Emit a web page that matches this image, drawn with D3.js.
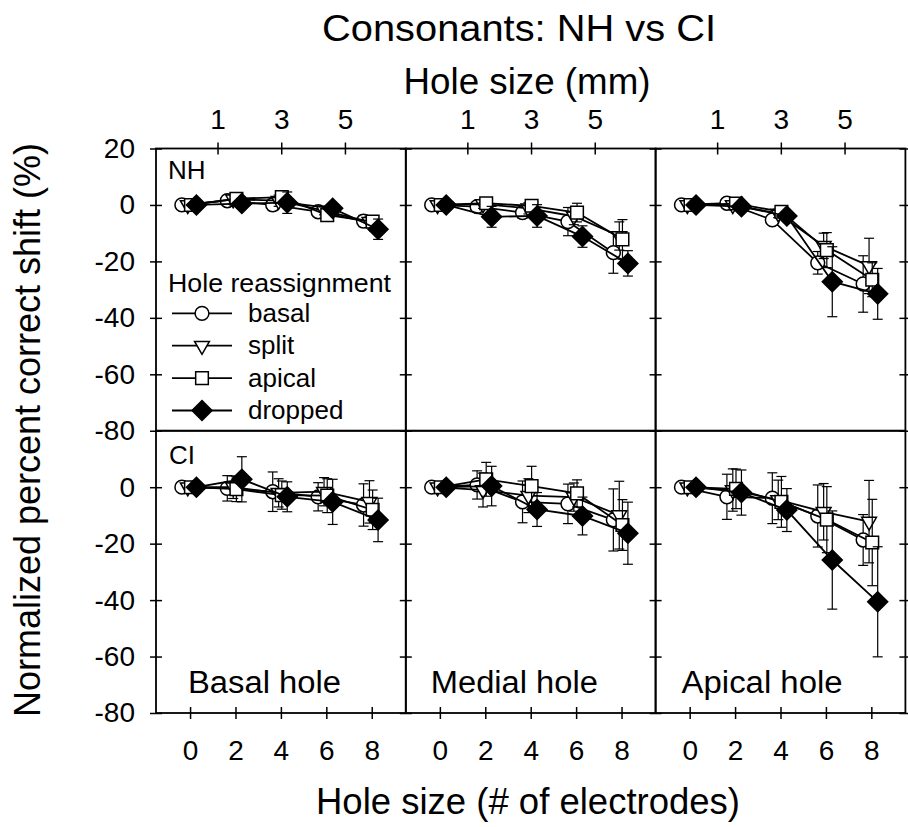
<!DOCTYPE html>
<html>
<head>
<meta charset="utf-8">
<script src="https://cdn.jsdelivr.net/npm/d3@7"></script>
<style>
body{margin:0;background:#fff}
svg text{font-family:"Liberation Sans",Arial,Helvetica,sans-serif;fill:#000}
</style>
</head>
<body>
<svg id="chart" width="908" height="827"></svg>
<script>

var holeSizes=[0,2,4,6,8]
var holeLabels=["Basal hole","Medial hole","Apical hole"]
var groups=["NH","CI"]
var seriesNames=["basal","split","apical","dropped"]
var mmTicks=[1,3,5]
var yTicksTop=[20,0,-20,-40,-60,-80]
var yTicksBottom=[0,-20,-40,-60,-80]

// mean shift (%), rows = basal, split, apical, dropped
var nhBasal=[[0,1.5,0,-2.4,-5.7],[0,2,1.5,-2,-6],[0,2.2,2.8,-3.6,-5.9],[0,0.5,0.8,-1.2,-8.6]]
var nhMedial=[[0,-0.6,-2.7,-5.9,-16.9],[0,0.3,-1.2,-4,-11],[0,0.6,-0.3,-2.7,-12.2],[0,-4.2,-3.9,-11.2,-20.7]]
var nhApical=[[0,0.6,-5.3,-20.5,-28],[0,0,-3,-14.5,-21.6],[0,0.5,-2.4,-16,-26.5],[0,-0.6,-3.9,-27.2,-31.5]]
var ciBasal=[[0,-0.4,-1.6,-3.4,-6.3],[0,0,-2,-1.6,-5.2],[0,-0.7,-2.8,-3,-8],[0,2.8,-3.4,-5.2,-11.6]]
var ciMedial=[[0,0.8,-5.2,-5.9,-11.6],[0,-1,-3,-3.5,-9.9],[0,2.8,0.4,-2.2,-13.4],[0,0.4,-7.9,-10.2,-16.3]]
var ciApical=[[0,-3.4,-3.9,-10.2,-18.7],[0,-1,-4.5,-8.7,-12.2],[0,-0.6,-5.2,-11.5,-19.6],[0,-1.9,-8.1,-25.8,-40.6]]

// standard errors, same layout
var nhBasalSE=[[0,1.5,2,1.5,2],[0,1.5,2,1.5,2],[0,1.5,2,1.5,2],[0,1.5,3.8,1.5,3.6]]
var nhMedialSE=[[0,1.5,2,5,7.3],[0,1.5,2,3,5],[0,2,2,3.3,7],[0,3.7,4,3.8,4.5]]
var nhApicalSE=[[0,1,1.5,4,10],[0,1,1.5,4.5,9.8],[0,1,1.5,6.2,6],[0,1,1.5,12.4,9]]
var ciBasalSE=[[0,4.5,7,5,7.5],[0,4,5,5,7.5],[0,4.4,5,6,7],[0,8,5.3,8,7.7]]
var ciMedialSE=[[0,5,7.4,7,11],[0,6,6,5,12],[0,6,7,4.8,9],[0,7,6,6.7,11]]
var ciApicalSE=[[0,8,9,11,9],[0,7.5,7,10,14.6],[0,7,9,11.7,15.3],[0,8,7.6,17.4,19.5]]

var means=[[nhBasal,nhMedial,nhApical],[ciBasal,ciMedial,ciApical]]
var errs=[[nhBasalSE,nhMedialSE,nhApicalSE],[ciBasalSE,ciMedialSE,ciApicalSE]]

var svg=d3.select("#chart")
var L=156, T=148.5, PW=249.8, RH=282.25
var xOff=[-0.36,-0.1,0.04,0.28]   //desplazamiento de cada serie en x

function panelX(i){ return d3.scaleLinear().domain([-1.5,9.5]).range([L+i*PW,L+(i+1)*PW]) }
function panelMM(i){ return d3.scaleLinear().domain([-0.9323,6.911]).range([L+i*PW,L+(i+1)*PW]) }
function rowY(r){ return d3.scaleLinear().domain([-80,20]).range([T+(r+1)*RH,T+r*RH]) }

var symbols=[
  {gen:d3.symbol().type(d3.symbolCircle).size(150),rot:0,fill:"#fff"},
  {gen:d3.symbol().type(d3.symbolTriangle).size(95),rot:180,fill:"#fff"},
  {gen:d3.symbol().type(d3.symbolSquare).size(160),rot:0,fill:"#fff"},
  {gen:d3.symbol().type(d3.symbolSquare).size(200),rot:45,fill:"#000"}
]

//marcos
groups.forEach(function(g,r){
  holeLabels.forEach(function(h,i){
    svg.append("rect").attr("x",L+i*PW).attr("y",T+r*RH).attr("width",PW).attr("height",RH)
      .attr("fill","none").attr("stroke","#000").attr("stroke-width",1.8)
  })
})

function fixAxis(g,fs){
  g.attr("font-size",fs).attr("font-family",null)
  g.select(".domain").remove()
  g.selectAll(".tick line").attr("stroke-width",1.5)
}
var plain=function(d){ return String(d) }   // guion normal, no signo menos unicode

//ejes y
groups.forEach(function(g,r){
  var y=rowY(r)
  for(var i=0;i<=3;i++){
    var ax=d3.axisLeft(y).tickValues(r==0?yTicksTop:yTicksBottom).tickSize(6).tickPadding(15)
      .tickFormat(i>0 ? "" : plain)
    var ga=svg.append("g").attr("transform","translate("+(L+i*PW)+",0)").call(ax)
    fixAxis(ga,28)
    ga.selectAll(".tick line").attr("x1",6)
  }
})

//ejes x
holeLabels.forEach(function(h,i){
  var gb=svg.append("g").attr("transform","translate(0,"+(T+2*RH)+")")
    .call(d3.axisBottom(panelX(i)).tickValues(holeSizes).tickFormat(plain).tickSize(6).tickPadding(21))
  fixAxis(gb,28)
  gb.selectAll(".tick line").attr("y1",-6)

  var gt=svg.append("g").attr("transform","translate(0,"+T+")")
    .call(d3.axisTop(panelMM(i)).tickValues(mmTicks).tickFormat(plain).tickSize(6).tickPadding(14))
  fixAxis(gt,28)
  gt.selectAll(".tick line").attr("y1",6)
})

//datos
groups.forEach(function(g,r){
  var y=rowY(r)
  holeLabels.forEach(function(h,i){
    var x=panelX(i)
    var pg=svg.append("g").attr("class","panel")
    seriesNames.forEach(function(s,k){
      var pts=holeSizes.map(function(hs,j){ return {x:hs+xOff[k],v:means[r][i][k][j],e:errs[r][i][k][j]} })
      var sg=pg.append("g").attr("class","serie "+s)
      var eb=sg.selectAll("g.err").data(pts.filter(function(d){return d.e>0})).enter().append("g").attr("class","err")
      eb.append("line").attr("x1",function(d){return x(d.x)}).attr("x2",function(d){return x(d.x)})
        .attr("y1",function(d){return y(d.v+d.e)}).attr("y2",function(d){return y(d.v-d.e)})
        .attr("stroke","#000").attr("stroke-width",1.2)
      ;[1,-1].forEach(function(sgn){
        eb.append("line").attr("x1",function(d){return x(d.x)-5}).attr("x2",function(d){return x(d.x)+5})
          .attr("y1",function(d){return y(d.v+sgn*d.e)}).attr("y2",function(d){return y(d.v+sgn*d.e)})
          .attr("stroke","#000").attr("stroke-width",1.2)
      })
      sg.append("path").datum(pts)
        .attr("d",d3.line().x(function(d){return x(d.x)}).y(function(d){return y(d.v)}))
        .attr("fill","none").attr("stroke","#000").attr("stroke-width",1.8)
      sg.selectAll("path.mark").data(pts).enter().append("path").attr("class","mark")
        .attr("d",symbols[k].gen())
        .attr("transform",function(d){return "translate("+x(d.x)+","+y(d.v)+")rotate("+symbols[k].rot+")"})
        .attr("fill",symbols[k].fill).attr("stroke","#000").attr("stroke-width",1.5)
    })
  })
})

//etiquetas
function txt(t,x,y,fs,len,anchor){
  var el=svg.append("text").attr("x",x).attr("y",y).attr("font-size",fs).attr("text-anchor",anchor||"start").text(t)
  if(len) el.attr("textLength",len).attr("lengthAdjust","spacingAndGlyphs")
  return el
}
txt("Consonants: NH vs CI",519,41,37,394,"middle")
txt("Hole size (mm)",527,94,36,247,"middle")
txt("Hole size (# of electrodes)",528,814,36,424,"middle")
svg.append("text").attr("transform","translate(40,430)rotate(-90)").attr("text-anchor","middle")
  .attr("font-size",36).attr("textLength",574).attr("lengthAdjust","spacingAndGlyphs")
  .text("Normalized percent correct shift (%)")

var labelOff=[32,25,26], labelLen=[153,167,161]
holeLabels.forEach(function(h,i){ txt(h,L+i*PW+labelOff[i],693,31,labelLen[i]) })
txt("NH",168,179,26)
txt("CI",169,464,26)

//leyenda
txt("Hole reassignment",168,292,25,223)
seriesNames.forEach(function(s,k){
  var cy=313.3+k*32.4
  svg.append("line").attr("x1",172).attr("x2",232).attr("y1",cy).attr("y2",cy).attr("stroke","#000").attr("stroke-width",1.8)
  svg.append("path").attr("d",symbols[k].gen()).attr("transform","translate(202,"+cy+")rotate("+symbols[k].rot+")")
    .attr("fill",symbols[k].fill).attr("stroke","#000").attr("stroke-width",1.5)
  txt(s,248,cy+8.5,26)
})
</script>
</body>
</html>
